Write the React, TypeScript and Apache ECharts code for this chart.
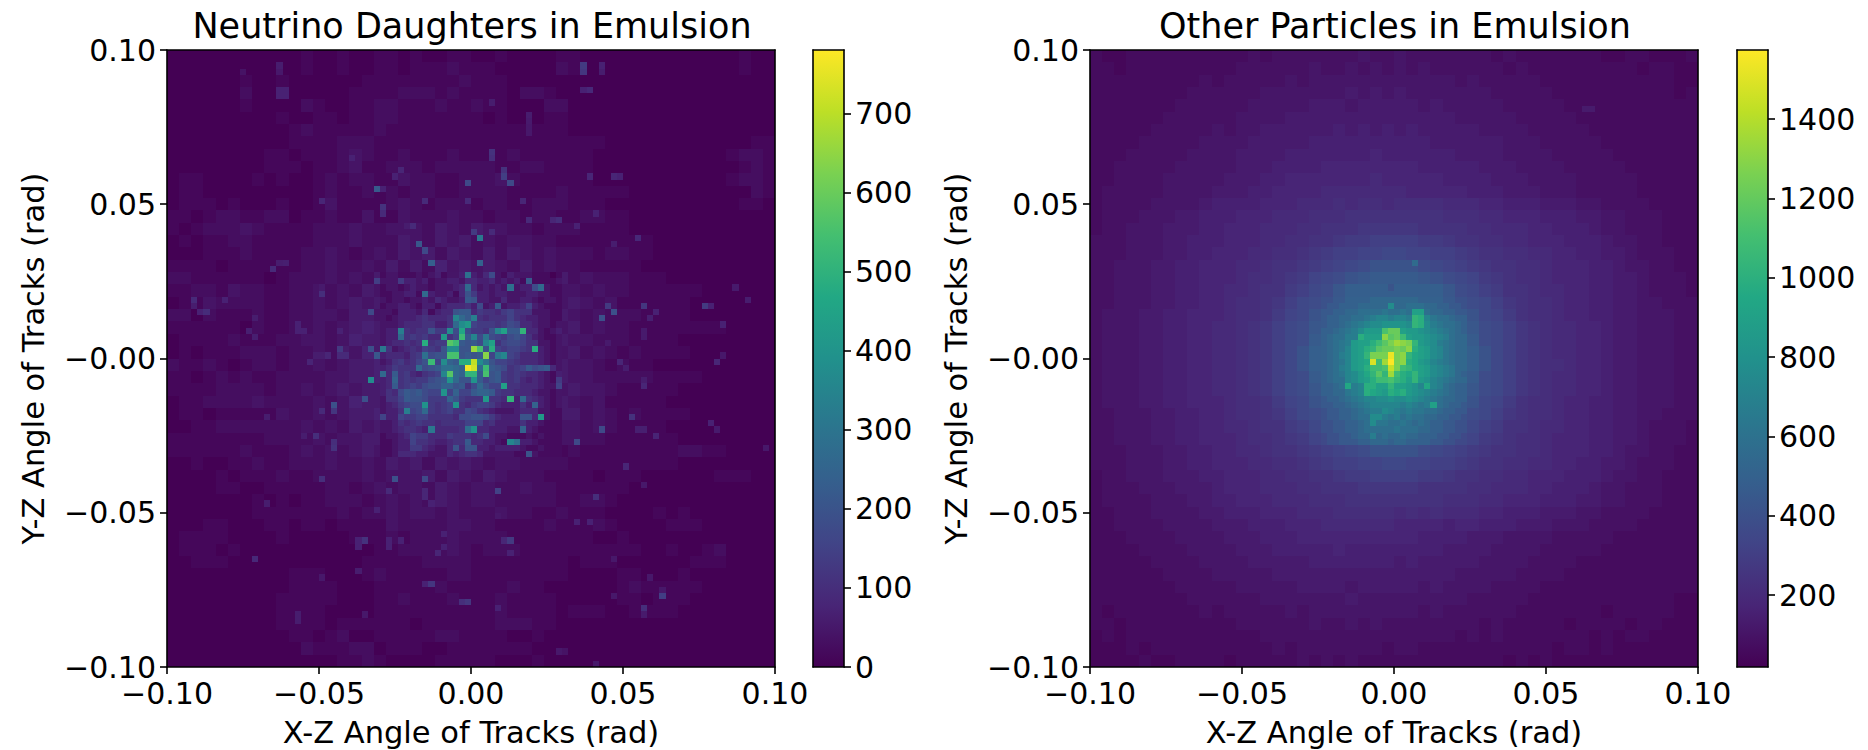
import React, { useEffect, useRef } from "react";
import * as echarts from "echarts";

const titles = ["Neutrino Daughters in Emulsion", "Other Particles in Emulsion"];
const xName = "X-Z Angle of Tracks (rad)";
const yName = "Y-Z Angle of Tracks (rad)";
const xTickLabels = ["\u22120.10", "\u22120.05", "0.00", "0.05", "0.10"];
const yTickLabels = ["\u22120.10", "\u22120.05", "\u22120.00", "0.05", "0.10"];
const leftBarTicks = [0, 100, 200, 300, 400, 500, 600, 700];
const rightBarTicks = [200, 400, 600, 800, 1000, 1200, 1400];
const leftRange = [0, 780];
const rightRange = [19, 1574];
const viridis = ["#440154", "#482576", "#414487", "#355f8d", "#2a788e", "#21918c", "#22a884", "#44bf70", "#7ad151", "#bddf26", "#fde725"];

// Left panel: levels, one base-36 character per block; "." = covered by the finer table.
// 2-bin blocks, whole panel, value = level * 14
const leftCoarse = [
  "0000000000 0100100110 1001100100 0011000000 0000000100",
  "0000000000 0100100110 1112111000 0021000000 0000000100",
  "0000001001 0000001111 1111211100 0000000000 0000000000",
  "0000002005 0000011112 2212111102 2100000000 0000000000",
  "0000001000 0210011221 1121121100 0220000000 0000000000",
  "0000000001 0011011221 1111110100 0110000000 0000000000",
  "0000000000 1211111211 1111111111 1110000000 0000000000",
  "0000000000 1111222111 1111111111 1111110000 0000000011",
  "0000000011 0111232112 1112111121 1111100000 0000001221",
  "0000000011 1011231122 2122222112 2111100000 0000000121",
  "0110000101 0012122113 2211222321 1111100000 0000001221",
  "0110000000 0012112121 2211222211 1121111100 0000000021",
  "0111010001 0013111123 2122212211 2221110000 0000000110",
  "1101221122 0112113113 2223221221 2211221100 0000000000",
  "1012223211 1122232233 3243243322 1222111100 0000000000",
  "0101122111 1122232224 3243423233 2211111111 0000000000",
  "0001112111 1223212324 3424324243 2322212211 0000000000",
  "1111011111 1223223242 4253434324 2322111110 0000000000",
  "2211111101 22232324.. .......... ..42322211 1000000000",
  "1122132211 22323243.. .......... ..33232211 1111000000",
  "0113222211 22323434.. .......... ..34323111 1110000000",
  "2202111211 22332443.. .......... ..43232221 1110000000",
  "1111110211 22323454.. .......... ..34232211 1111110000",
  "0111121112 23323544.. .......... ..43322211 1100000000",
  "0101112221 22324354.. .......... ..34232121 1110000000",
  "2112101221 22323445.. .......... ..43321211 0000000000",
  "1101212112 22233445.. .......... ..43322222 1111000000",
  "1111222212 23234344.. .......... ..34332111 1100000000",
  "0112222322 22323544.. .......... ..43231111 1000000000",
  "0110111113 22323445.. .......... ..44232121 1110000000",
  "0011222222 23232434.. .......... ..33232111 1000000000",
  "1111111122 22323344.. .......... ..33221111 1100000000",
  "1111112111 2323234334 3435343243 2312111111 1122110000",
  "0010011211 2223223243 4243432332 2221111111 1100000000",
  "0000101112 1122223233 3424324322 2111101110 0000011100",
  "0000110011 1112212323 3243233223 2211111100 0000000000",
  "0000000101 0112221232 3243233222 2211221000 0000000000",
  "0000000111 1111212232 3323222322 1121110000 1010000000",
  "0001100011 0110111132 2223322111 1211121000 0111000000",
  "0111100001 0000011121 2223222211 1111100100 0000000000",
  "0111010000 0000000112 2223212221 1111111110 0100120000",
  "0011100000 0000001111 1222211111 1110111000 0001110000",
  "0000000000 1110001211 1112211111 1110000110 0010000000",
  "0000000000 1111000111 1121111121 1000000121 1111000000",
  "0000000001 1111000112 1112111211 1100000110 1110000000",
  "0000000001 1110000111 1111111211 1101110011 1100000000",
  "0000000001 1110111111 0111111222 1100000000 0000000000",
  "0000000000 1101200111 1122111100 1000000000 0000000000",
  "0000000000 0211122011 1001111111 0000000000 0000000000",
  "0000000000 0000112100 0011111000 1000000000 0000000000",
];
// single bins, columns 35-64, rows 36-65 from the top, value = level * 22
const leftFine = [
  "1221112123 1223d32482 1322211101",
  "2226332312 2332443342 3231a11112",
  "1221232212 2234c42323 2d2338c211",
  "1122331c32 2314963323 3222332211",
  "2122122324 3223a93322 4223321221",
  "1223321331 344453823a 2334732111",
  "2213332413 449aa46554 6755522211",
  "2123334544 45gcaf5455 5754332211",
  "2223444553 35chj76665 6874432212",
  "233f545596 6h8l86659g kaan442123",
  "233c565644 j57oag8e87 6897532112",
  "2344545m56 6qoa9a8gk5 7887552212",
  "e523454765 9hh99up9m7 67765m3212",
  "3444356d89 9pp9a9at7e g764443212",
  "23564579o7 hbammwhd97 7654443212",
  "346555c89a ddcbzxcoa9 8567a89a42",
  "c4a5643567 gqcbnnap9a 6565443213",
  "34b5656689 aic99ia79a 6564343216",
  "34a5676899 bb9a58c977 k554443227",
  "3548a9a877 i7b77abba6 5544432212",
  "2557a99866 6b96555j55 4n3c543212",
  "2346788i65 67i5467764 33353b3212",
  "2335f78c65 6755875432 2234442211",
  "7337667755 5548899864 333994j211",
  "2235456554 5555777453 3335332111",
  "22345543e4 4445di4433 322b321111",
  "1223476644 4655545832 2111212111",
  "1123375543 3455a44332 1gd3321111",
  "1123366432 2494993323 3332112111",
  "1124443322 2434554222 2211921111",
];
// single hot bins outside the finer table: column, row from the top, value
const leftHot = [
  [34,22,220],[49,21,170],[35,22,70],[35,25,110],[35,26,90],[38,19,80],[37,20,70],[30,17,70],[25,24,80],[42,24,90],
  [40,28,90],[39,28,60],[18,2,60],[18,3,50],[12,3,40],[49,24,90],[68,2,130],[68,3,120],[71,2,70],[71,3,60],
  [68,6,70],[69,6,85],[53,8,60],[53,16,110],[53,17,100],[55,19,110],[55,20,140],[56,21,170],[50,29,170],[53,29,90],
  [59,10,60],[59,11,55],[59,12,50],[59,13,50],[59,27,90],[64,27,100],[63,27,80],[73,20,80],[74,20,70],[69,20,80],
  [70,26,70],[58,24,80],[67,28,70],[50,29,130],[51,30,310],[41,31,210],[42,32,170],[43,34,230],[51,34,240],
  [36,71,90],[42,71,80],[42,72,80],[43,73,70],[34,74,70],[16,73,60],[32,79,110],[31,79,70],[31,80,70],[36,79,70],
  [36,80,70],[38,79,70],[45,78,70],[45,80,70],[44,81,80],[14,82,85],[31,84,60],[43,86,120],[42,86,70],[48,89,100],
  [49,89,120],[21,91,60],[21,92,60],[25,85,50],[32,91,50],[54,71,150],[70,72,100],[56,79,130],[55,79,80],[56,81,70],
  [69,76,70],[67,76,70],[54,75,50],[81,88,140],[81,87,50],[78,90,100],[78,91,55],[79,85,50],[54,90,70],[73,82,50],
  [73,88,50],[70,99,50],[64,97,50],[65,97,40],[19,34,65],[18,34,60],[17,35,90],[25,39,100],[25,38,55],[4,40,90],
  [9,40,70],[6,42,95],[5,42,70],[4,41,60],[14,43,60],[13,45,65],[14,46,65],[21,44,70],[21,45,70],[22,45,70],
  [28,48,130],[26,49,80],[28,49,90],[29,49,90],[23,50,75],[24,49,60],[25,49,60],[27,57,190],[27,58,120],[25,58,90],
  [16,59,60],[24,62,100],[22,62,60],[27,63,100],[27,64,110],[25,69,100],[28,45,70],[33,42,170],[33,48,190],[32,56,190],
  [33,53,370],[34,49,210],[34,37,140],[77,30,85],[73,31,60],[93,38,55],[95,40,60],[78,41,120],[72,41,130],[73,42,190],
  [71,43,190],[88,41,130],[89,41,70],[80,42,70],[79,43,65],[91,44,70],[78,45,55],[78,46,55],[72,47,55],[74,50,80],
  [75,51,60],[90,50,80],[91,49,50],[78,53,60],[78,54,80],[71,61,170],[76,59,110],[77,61,65],[78,61,65],[80,62,75],
  [89,60,70],[90,61,55],[98,64,50],[75,67,80],[78,70,50],[67,63,170],[37,69,190],[42,69,170],
];

// Right panel. 2-bin blocks, whole panel, value = level * 22
const rightCoarse = [
  "3223333333 3334344444 4454454444 4443433333 3322332223",
  "3323333333 3344444454 4545454544 4444343333 3333323322",
  "3333333334 3444445455 5555555555 4544444333 3333333322",
  "3333333344 4444555555 5656565555 5554444433 3333333323",
  "3333333444 4445555566 6566666565 5555444443 3333333333",
  "3333334444 4455556666 6666666666 5555544444 3333333333",
  "3333344444 5455666666 7676767666 6655554444 4333333333",
  "3333444445 5556666677 7777777766 6666555444 4433333333",
  "3334444455 5566667777 7778777777 6666555544 4443333333",
  "3344444555 5566677778 8888888777 7766655554 4444333333",
  "3344445555 5666778888 8889888887 7776665555 4444433333",
  "3444445555 6667788889 9999998888 8777666555 4444433333",
  "3444455556 7777888999 a9aa9aaaa9 9988777666 5544443333",
  "3444555667 77888999aa abbbbbbbba aa99888777 6655444333",
  "3445556667 7888999aab bbcccccbbb baa9998877 7655444333",
  "4445556677 788899aabb cddeeeeddc bbaa998887 7765544333",
  "4445556677 88899aabcd eeffggffee dcbbaa9988 7766544433",
  "4455566778 8899abbcde fghjjjjhgf edcbbaa988 8776554433",
  "4455566778 889aabcdfg hjkllllkjh gfdcbaa988 8776654443",
  "4455566778 899abbdegh kmmmmmmmmk hgedbba998 8776654443",
  "4455566778 89aabcegh. .......... .hgecbaa98 8776655444",
  "4555667788 89aabdfgj. .......... .jgfdbaa98 8776655544",
  "4555667788 99abceghk. .......... .khgecba99 8876655544",
  "4555667788 99abceghl. .......... .lhgecba99 8876655544",
  "4555667788 99abcegjm. .......... .mjgecba99 8876655544",
  "4555667788 99abcegjm. .......... .mjgecbaa9 8876655544",
  "4555667788 99abceghl. .......... .lhgecba99 8876655544",
  "4555667788 99abceghk. .......... .khgecba99 8876655544",
  "4555667788 89aabdfgj. .......... .jgfdbaa98 8776655544",
  "4455566778 89aabcegh. .......... .hgecbaa98 8776655444",
  "4455566778 899abbdeg. .......... .gedbba998 8776654443",
  "4455566778 889aabcdf. .......... .fdcbaa988 8776654443",
  "4445556677 8899abbcde fghjjjjhgf edcbbaa988 8776554433",
  "4445556677 88899aabcd eeffggffee dcbbaa9988 7766544433",
  "3445556667 788899aabb cddeeeeddc bbaa998887 7765544333",
  "3444555666 7888999aab bbcccccbbb baa9998877 7655444333",
  "3444455566 77888999aa abbbbbbbba aa99888777 6655444333",
  "3344455556 6777888999 aaaaa9a9a9 9988777666 5544443333",
  "3344445555 6667778889 9999988887 8877766655 5444433333",
  "3334444555 5666777888 8888888777 7666555544 4443333333",
  "3333444455 5566677777 8777777776 6665555444 4433333333",
  "3333344445 5556666677 7777767666 6655554444 3333333333",
  "3333334444 5555566666 6666666666 5555544443 3333333333",
  "3333333444 4455555666 6566666565 5554444333 3333333333",
  "3333333344 4444555555 5655555555 5444443333 3333333322",
  "3233333334 3444445455 5555555454 4444433333 3323333322",
  "3323333333 3344444454 4545444444 4434333332 3333233222",
  "2323333333 3333444444 4444444444 3434333333 3232332222",
  "2223233333 3333343444 4444344333 3333333323 3232222222",
  "2222322333 3233333434 3433333333 3333232322 2222222222",
];
// single bins, columns 38-61, rows 40-63 from the top, value = level * 45
const rightFine = [
  "99aabbbbcccc ccccbbbbaa99",
  "9aabbbccccch ccdddccbbaa9",
  "aabbccdddded dedkkdccbbaa",
  "abbccddefggf ggfnmgeddcbb",
  "abbcdefghhii iihnmhfeddcb",
  "bbcdefhjjjpr rkjjihgfedcb",
  "bcddffmkkktq rokjjihgfdcc",
  "bcdefjkkmoqs utsnjihfedcc",
  "bcdegjkmnqrr srtmkjhgedcc",
  "bcdfgjknsssy stnlkjhgedcc",
  "bcdegjklxouz stmljigfedcc",
  "bcdfgjkmoopw sonlkjhgfecc",
  "bcdeghjlnqnu omlnkjhgfecb",
  "bcddghjkmoop nmknjigfedcc",
  "bbcdlfgmmkkn kkjiglgfdcbb",
  "bbccefgmlkjm lmjihgfedcbb",
  "abbcdefgghhi hhihgfedccbb",
  "aabbcdefgggg gfgfefkdcbba",
  "9aabbcdeffhg fefeeddcbbaa",
  "9aabbcddhhfe fdeddccbbaa9",
  "99aabbcdheed dedcdcbbaa99",
  "99aabbcddddd edddccbbaa99",
  "899aabccfcdc cdccbbbaa998",
  "899aaabbcccb ccbbbbaa9988",
];
const rightHot = [
  [81, 9, 130], [82, 9, 130], [53, 34, 560], [49, 38, 420],
];

const binWidth = 0.002;
type Cell = number[];

function addTable(cells: Cell[], rows: string[], startCol: number, startRow: number, span: number, scale: number) {
  rows.forEach((row, r) => {
    row.replace(/ /g, "").split("").forEach((ch, c) => {
      if (ch === ".") return;
      const col = startCol + c * span;
      const line = startRow + r * span;
      cells.push([
        -0.1 + col * binWidth,
        0.1 - line * binWidth,
        -0.1 + (col + span) * binWidth,
        0.1 - (line + span) * binWidth,
        parseInt(ch, 36) * scale,
      ]);
    });
  });
}
function addHot(cells: Cell[], hot: number[][]) {
  hot.forEach(([col, row, v]) => {
    cells.push([-0.1 + col * binWidth, 0.1 - row * binWidth, -0.1 + (col + 1) * binWidth, 0.1 - (row + 1) * binWidth, v]);
  });
}

const fontFamily = "DejaVu Sans";
const tickFont = 30;
const nameFont = 30.5;

function renderCell(params: any, api: any) {
  const a = api.coord([api.value(0), api.value(1)]);
  const b = api.coord([api.value(2), api.value(3)]);
  const x = Math.round(a[0]);
  const y = Math.round(a[1]);
  return {
    type: "rect",
    shape: { x, y, width: Math.round(b[0]) - x, height: Math.round(b[1]) - y },
    style: { fill: api.visual("color") },
  };
}

function renderBar(params: any, api: any) {
  const a = api.coord([0, api.value(1)]);
  const b = api.coord([1, api.value(0)]);
  return {
    type: "rect",
    shape: { x: a[0], y: a[1], width: b[0] - a[0], height: b[1] - a[1] },
    style: {
      fill: new echarts.graphic.LinearGradient(
        0, 1, 0, 0,
        viridis.map((color, i) => ({ offset: i / (viridis.length - 1), color })),
      ),
    },
  };
}

const line = { show: true, onZero: false, lineStyle: { color: "#000", width: 1.6 } };

function frameAxes(gridIndex: number) {
  return {
    x: [
      {
        type: "value", gridIndex, min: -0.1, max: 0.1, interval: 0.05, position: "bottom", z: 10,
        name: xName, nameLocation: "middle", nameGap: 50,
        nameTextStyle: { fontFamily, fontSize: nameFont, lineHeight: 30, color: "#000" },
        axisLine: line,
        axisTick: { show: true, length: 7, lineStyle: { color: "#000", width: 1.6 } },
        axisLabel: { show: true, margin: 11, fontFamily, fontSize: tickFont, color: "#000", showMinLabel: true, showMaxLabel: true, hideOverlap: false, formatter: (_: number, i: number) => xTickLabels[i] },
        splitLine: { show: false },
      },
      {
        type: "value", gridIndex, min: -0.1, max: 0.1, position: "top", z: 10,
        axisLine: line, axisTick: { show: false }, axisLabel: { show: false }, splitLine: { show: false },
      },
    ],
    y: [
      {
        type: "value", gridIndex, min: -0.1, max: 0.1, interval: 0.05, position: "left", z: 10,
        name: yName, nameLocation: "middle", nameGap: 118,
        nameTextStyle: { fontFamily, fontSize: nameFont, color: "#000" },
        axisLine: line,
        axisTick: { show: true, length: 7, lineStyle: { color: "#000", width: 1.6 } },
        axisLabel: { show: true, margin: 11, fontFamily, fontSize: tickFont, color: "#000", showMinLabel: true, showMaxLabel: true, hideOverlap: false, formatter: (_: number, i: number) => yTickLabels[i] },
        splitLine: { show: false },
      },
      {
        type: "value", gridIndex, min: -0.1, max: 0.1, position: "right", z: 10,
        axisLine: line, axisTick: { show: false }, axisLabel: { show: false }, splitLine: { show: false },
      },
    ],
  };
}

function barAxes(gridIndex: number, range: number[], ticks: number[]) {
  return {
    x: [
      { type: "value", gridIndex, min: 0, max: 1, position: "bottom", z: 10, axisLine: line, axisTick: { show: false }, axisLabel: { show: false }, splitLine: { show: false } },
      { type: "value", gridIndex, min: 0, max: 1, position: "top", z: 10, axisLine: line, axisTick: { show: false }, axisLabel: { show: false }, splitLine: { show: false } },
    ],
    y: [
      { type: "value", gridIndex, min: range[0], max: range[1], position: "left", z: 10, axisLine: line, axisTick: { show: false }, axisLabel: { show: false }, splitLine: { show: false } },
      {
        type: "value", gridIndex, min: range[0], max: range[1], position: "right", z: 10, axisLine: line,
        axisTick: { show: true, length: 7, customValues: ticks, lineStyle: { color: "#000", width: 1.6 } },
        axisLabel: { show: true, margin: 11, fontFamily, fontSize: tickFont, color: "#000", customValues: ticks, formatter: (v: number) => String(v) },
        splitLine: { show: false },
      },
    ],
  };
}

export default function App() {
  const ref = useRef<HTMLDivElement>(null);
  useEffect(() => {
    document.body.style.margin = "0";
    const chart = echarts.init(ref.current!, undefined, { renderer: "svg" });

    const leftCells: Cell[] = [];
    addTable(leftCells, leftCoarse, 0, 0, 2, 14);
    addHot(leftCells, leftHot);
    addTable(leftCells, leftFine, 35, 36, 1, 22);
    const rightCells: Cell[] = [];
    addTable(rightCells, rightCoarse, 0, 0, 2, 22);
    addHot(rightCells, rightHot);
    addTable(rightCells, rightFine, 38, 40, 1, 45);

    const axes = [frameAxes(0), barAxes(1, leftRange, leftBarTicks), frameAxes(2), barAxes(3, rightRange, rightBarTicks)];
    const xAxis: any[] = axes.flatMap((a) => a.x);
    const yAxis: any[] = axes.flatMap((a) => a.y);

    chart.setOption({
      animation: false,
      backgroundColor: "#fff",
      title: [
        { text: titles[0], left: 467, top: 3, textAlign: "center", textStyle: { fontFamily, fontSize: 35, fontWeight: "normal", color: "#000" } },
        { text: titles[1], left: 1390, top: 3, textAlign: "center", textStyle: { fontFamily, fontSize: 35, fontWeight: "normal", color: "#000" } },
      ],
      grid: [
        { left: 167, top: 50, width: 608, height: 617, outerBoundsMode: "none" },
        { left: 813, top: 50, width: 31, height: 617, outerBoundsMode: "none" },
        { left: 1090, top: 50, width: 608, height: 617, outerBoundsMode: "none" },
        { left: 1737, top: 50, width: 31, height: 617, outerBoundsMode: "none" },
      ],
      xAxis,
      yAxis,
      visualMap: [
        { type: "continuous", show: false, seriesIndex: 0, dimension: 4, min: leftRange[0], max: leftRange[1], inRange: { color: viridis } },
        { type: "continuous", show: false, seriesIndex: 2, dimension: 4, min: rightRange[0], max: rightRange[1], inRange: { color: viridis } },
      ],
      series: [
        { type: "custom", name: titles[0], xAxisIndex: 0, yAxisIndex: 0, renderItem: renderCell, data: leftCells, silent: true, clip: true },
        { type: "custom", name: "colorbar left", xAxisIndex: 2, yAxisIndex: 2, renderItem: renderBar, data: [leftRange], silent: true },
        { type: "custom", name: titles[1], xAxisIndex: 4, yAxisIndex: 4, renderItem: renderCell, data: rightCells, silent: true, clip: true },
        { type: "custom", name: "colorbar right", xAxisIndex: 6, yAxisIndex: 6, renderItem: renderBar, data: [rightRange], silent: true },
      ],
    });
    return () => chart.dispose();
  }, []);
  return <div ref={ref} style={{ position: "absolute", left: 0, top: 0, width: 1868, height: 750 }} />;
}
